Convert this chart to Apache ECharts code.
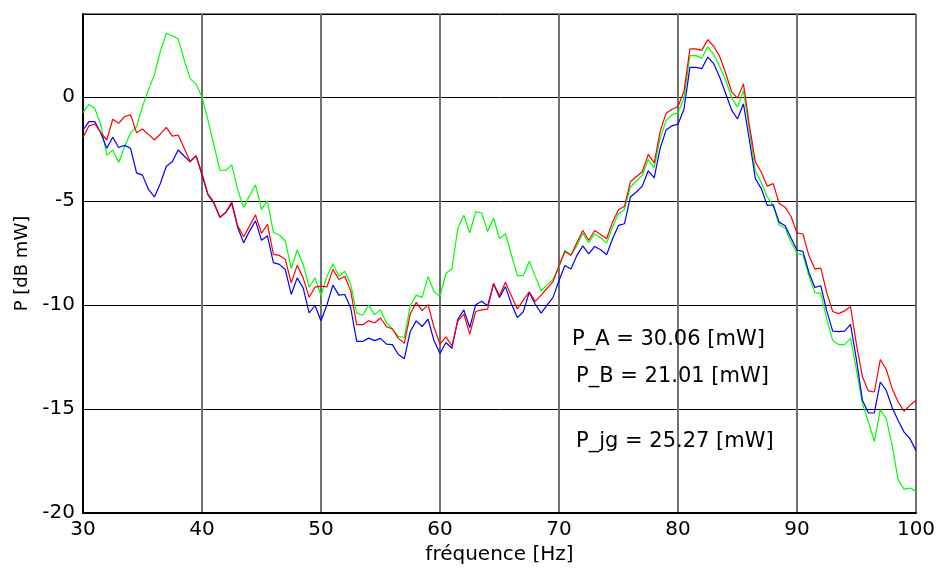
<!DOCTYPE html>
<html>
<head>
<meta charset="utf-8">
<script src="https://cdn.jsdelivr.net/npm/echarts@6/dist/echarts.min.js"></script>
<style>
html,body{margin:0;padding:0;background:#fff;}
#chart{width:938px;height:569px;}
</style>
</head>
<body>
<div id="chart"></div>
<script>
const freq = [30,30.5,31,31.5,32,32.5,33,33.5,34,34.5,35,35.5,36,36.5,37,37.5,38,38.5,39,39.5,
40,40.5,41,41.5,42,42.5,43,43.5,44,44.5,45,45.5,46,46.5,47,47.5,48,48.5,49,49.5,
50,50.5,51,51.5,52,52.5,53,53.5,54,54.5,55,55.5,56,56.5,57,57.5,58,58.5,59,59.5,
60,60.5,61,61.5,62,62.5,63,63.5,64,64.5,65,65.5,66,66.5,67,67.5,68,68.5,69,69.5,
70,70.5,71,71.5,72,72.5,73,73.5,74,74.5,75,75.5,76,76.5,77,77.5,78,78.5,79,79.5,
80,80.5,81,81.5,82,82.5,83,83.5,84,84.5,85,85.5,86,86.5,87,87.5,88,88.5,89,89.5,
90,90.5,91,91.5,92,92.5,93,93.5,94,94.5,95,95.5,96,96.5,97,97.5,98,98.5,99,99.5,100];

const redP = [-1.93,-1.38,-1.29,-1.71,-2.06,-1.06,-1.26,-0.93,-0.85,-1.71,-1.53,-1.79,-2.06,-1.77,-1.45,-1.87,-1.82,-2.46,-3.08,-2.82,
-3.65,-4.65,-5.05,-5.76,-5.55,-5.03,-6.19,-6.71,-6.19,-5.66,-6.55,-6.11,-7.56,-7.61,-7.8,-8.93,-8.09,-8.69,-9.62,-9.14,
-9.09,-9.12,-8.28,-8.77,-8.61,-9.33,-10.94,-10.94,-10.75,-10.86,-10.62,-11.04,-11.15,-11.6,-11.84,-10.43,-9.87,-10.27,-9.98,-11.08,
-11.88,-11.53,-11.96,-10.76,-10.43,-11.4,-10.31,-10.23,-10.19,-8.95,-9.55,-8.9,-9.55,-10.19,-9.76,-9.36,-9.82,-9.52,-9.19,-8.87,
-8.1,-7.42,-7.6,-7.0,-6.41,-6.88,-6.41,-6.6,-6.81,-6.01,-5.41,-5.25,-4.07,-3.83,-3.59,-2.75,-3.16,-1.66,-0.77,-0.58,
-0.45,0.27,2.32,2.32,2.25,2.77,2.45,1.96,1.16,0.27,-0.05,0.64,-1.34,-3.11,-3.6,-4.28,-4.16,-5.1,-5.29,-5.74,
-6.53,-6.58,-7.62,-8.27,-8.22,-9.4,-10.31,-10.41,-10.28,-10.07,-11.9,-13.45,-14.13,-14.18,-12.62,-13.1,-14.02,-14.66,-15.1,-14.82,-14.58];

const blueP = [-1.58,-1.18,-1.18,-1.74,-2.46,-1.93,-2.42,-2.32,-2.46,-3.64,-3.75,-4.44,-4.8,-4.15,-3.32,-3.11,-2.54,-2.83,-3.11,-2.82,
-3.75,-4.7,-5.1,-5.79,-5.55,-5.11,-6.27,-7.0,-6.43,-5.95,-6.88,-6.67,-7.96,-8.04,-8.29,-9.49,-8.69,-9.17,-10.38,-10.02,
-10.75,-9.98,-9.04,-9.52,-9.49,-10.14,-11.75,-11.75,-11.59,-11.71,-11.6,-11.88,-11.9,-12.38,-12.58,-11.27,-10.76,-11.03,-10.68,-11.72,
-12.33,-11.8,-12.08,-10.68,-10.23,-11.08,-9.98,-9.82,-10.03,-8.99,-9.63,-9.11,-9.95,-10.6,-10.32,-9.39,-9.95,-10.39,-10.0,-9.63,
-8.82,-8.1,-8.26,-7.62,-7.15,-7.54,-7.18,-7.34,-7.58,-6.81,-6.17,-6.09,-4.8,-4.56,-4.28,-3.54,-3.88,-2.46,-1.58,-1.38,
-1.3,-0.58,1.43,1.43,1.37,1.93,1.61,0.97,0.19,-0.61,-1.05,-0.32,-2.06,-3.92,-4.4,-5.21,-5.18,-6.01,-6.18,-6.77,
-7.35,-7.42,-8.43,-9.15,-9.07,-10.28,-11.25,-11.28,-11.25,-10.93,-12.65,-14.58,-15.19,-15.18,-13.7,-14.1,-14.94,-15.55,-16.11,-16.43,-17.0];

const greenP = [-0.74,-0.35,-0.55,-1.34,-2.79,-2.54,-3.14,-2.38,-1.71,-1.42,-0.45,0.35,1.08,2.2,3.06,2.96,2.8,1.8,0.89,0.64,
0.0,-1.1,-2.3,-3.51,-3.52,-3.26,-4.45,-5.3,-4.73,-4.22,-5.4,-4.98,-6.51,-6.63,-6.92,-8.25,-7.35,-8.04,-9.14,-8.69,
-9.54,-8.61,-8.01,-8.61,-8.37,-9.01,-10.38,-10.49,-10.01,-10.46,-10.22,-10.85,-11.15,-11.5,-11.56,-10.03,-9.52,-9.63,-8.62,-9.36,
-9.58,-8.47,-8.26,-6.3,-5.68,-6.52,-5.52,-5.57,-6.46,-5.81,-6.81,-6.57,-7.58,-8.58,-8.58,-7.89,-8.62,-9.31,-9.03,-8.76,
-8.18,-7.36,-7.6,-7.15,-6.55,-7.0,-6.57,-6.76,-7.02,-6.25,-5.6,-5.41,-4.32,-4.03,-3.75,-3.0,-3.4,-1.98,-1.13,-0.85,
-0.74,-0.05,2.0,2.0,1.88,2.42,2.05,1.48,0.84,-0.02,-0.48,0.32,-1.58,-3.55,-4.1,-4.8,-5.2,-6.15,-6.29,-6.98,
-7.51,-7.59,-8.59,-9.4,-9.44,-10.68,-11.7,-11.9,-11.9,-11.6,-13.13,-14.74,-15.63,-16.55,-15.03,-15.47,-16.76,-18.41,-18.85,-18.8,-18.96];

const annotations = ['P_A = 30.06 [mW]', 'P_B = 21.01 [mW]', 'P_jg = 25.27 [mW]'];
const xTitle = 'fréquence [Hz]';
const yTitle = 'P [dB mW]';

function pairs(vals){ return freq.map((f,i)=>[f, vals[i]]); }

const FONT = 'DejaVu Sans';
const chart = echarts.init(document.getElementById('chart'), null, {renderer:'canvas'});
chart.setOption({
  animation: false,
  backgroundColor: '#fff',
  grid: { left: 83, right: 22, top: 14, bottom: 56, containLabel: false, outerBoundsMode: 'none',
          show: true, borderColor: '#000', borderWidth: 1, backgroundColor: 'transparent' },
  xAxis: {
    type: 'value', min: 30, max: 100, interval: 10,
    name: xTitle, nameLocation: 'middle', nameGap: 32,
    nameTextStyle: { fontFamily: FONT, fontSize: 20, color: '#000' },
    axisLine: { show: true, onZero: false, lineStyle: { color: '#000', width: 2 } },
    axisTick: { show: false },
    axisLabel: { fontFamily: FONT, fontSize: 20, color: '#000', margin: 7 },
    splitLine: { show: true, lineStyle: { color: '#707070', width: 2 } }
  },
  yAxis: {
    type: 'value', min: -20, max: 4, interval: 5,
    name: yTitle, nameLocation: 'middle', nameGap: 52, nameRotate: 90,
    nameTextStyle: { fontFamily: FONT, fontSize: 18, color: '#000' },
    axisLine: { show: true, lineStyle: { color: '#000', width: 2 } },
    axisTick: { show: false },
    axisLabel: { fontFamily: FONT, fontSize: 20, color: '#000', margin: 8, showMaxLabel: false },
    splitLine: { show: true, lineStyle: { color: '#000', width: 1 } }
  },
  series: [
    { type: 'line', data: pairs(greenP), symbol: 'none', lineStyle: { color: '#00ff00', width: 1.2 }, z: 2 },
    { type: 'line', data: pairs(blueP), symbol: 'none', lineStyle: { color: '#0000ff', width: 1.2 }, z: 3 },
    { type: 'line', data: pairs(redP), symbol: 'none', lineStyle: { color: '#ff0000', width: 1.2 }, z: 4 }
  ],
  graphic: [
    { type: 'text', left: 572, top: 329, style: { text: annotations[0], font: '21px "DejaVu Sans"', fill: '#000' }, z: 10 },
    { type: 'text', left: 576, top: 366, style: { text: annotations[1], font: '21px "DejaVu Sans"', fill: '#000' }, z: 10 },
    { type: 'text', left: 576, top: 431, style: { text: annotations[2], font: '21px "DejaVu Sans"', fill: '#000' }, z: 10 }
  ]
});
</script>
</body>
</html>
